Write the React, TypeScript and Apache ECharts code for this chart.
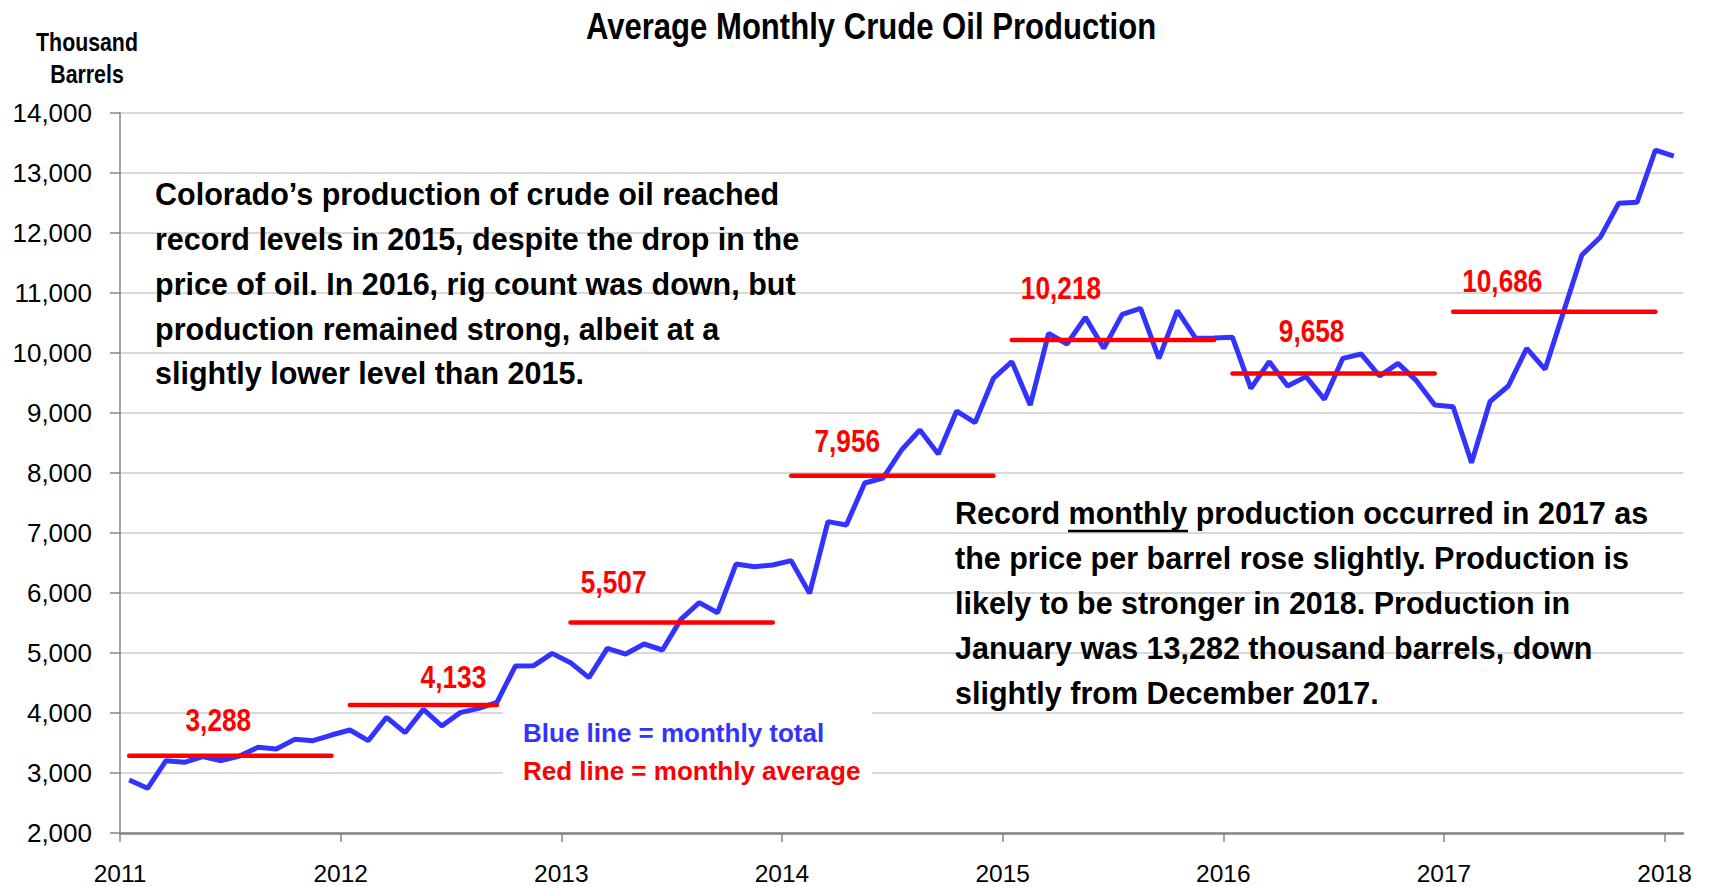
import React, { useEffect, useRef } from 'react';
import * as echarts from 'echarts';

// ---------- data ----------
const startYear = 2011;
const yearTicks = [2011, 2012, 2013, 2014, 2015, 2016, 2017, 2018];

const prod2011 = [2883, 2745, 3205, 3178, 3272, 3205, 3283, 3428, 3400, 3561, 3539, 3633];
const prod2012 = [3717, 3539, 3928, 3672, 4061, 3783, 4006, 4078, 4178, 4783, 4789, 4994];
const prod2013 = [4839, 4589, 5078, 4983, 5150, 5050, 5561, 5839, 5672, 6483, 6439, 6467];
const prod2014 = [6539, 5994, 7189, 7133, 7833, 7917, 8383, 8717, 8317, 9033, 8839, 9578];
const prod2015 = [9856, 9133, 10328, 10150, 10594, 10078, 10644, 10744, 9911, 10706, 10244, 10250];
const prod2016 = [10261, 9411, 9856, 9450, 9606, 9228, 9911, 9983, 9617, 9828, 9539, 9133];
const prod2017 = [9105, 8172, 9188, 9450, 10078, 9728, 10683, 11633, 11928, 12494, 12511, 13383];
const prod2018 = [13282];

const avgYears = [2011, 2012, 2013, 2014, 2015, 2016, 2017];
const avgValues = [3288, 4133, 5507, 7956, 10218, 9658, 10686];
const avgMonthsDrawn = [12, 9, 12, 12, 12, 12, 12];

const titleText = 'Average Monthly Crude Oil Production';
const unitText = 'Thousand\nBarrels';
const note1Lines = [
  'Colorado\u2019s production of crude oil reached',
  'record levels in 2015, despite the drop in the',
  'price of oil. In 2016, rig count was down, but',
  'production remained strong, albeit at a',
  'slightly lower level than 2015.',
];
const note2Lines = [
  'Record monthly production occurred in 2017 as',
  'the price per barrel rose slightly. Production is',
  'likely to be stronger in 2018. Production in',
  'January was 13,282 thousand barrels, down',
  'slightly from December 2017.',
];
const legendBlue = 'Blue line = monthly total';
const legendRed = 'Red line = monthly average';

// ---------- styles ----------
const FONT = '"Liberation Sans", Arial, sans-serif';
const NARROW_SCALE = 0.82;
const BLUE = '#3333ff';
const RED = '#ff0000';
const labelOffsets: [number, number][] = [
  [-12, -36], [30, -28], [-58, -41], [-45, -35], [-52, -52], [-22, -42], [-52, -31],
];

const fmt = (v: number) => Math.round(v).toLocaleString('en-US');

export default function App() {
  const ref = useRef<HTMLDivElement>(null);
  useEffect(() => {
    document.body.style.margin = '0';
    if (!ref.current) return;
    const chart = echarts.init(ref.current, undefined, { renderer: 'svg' });

    const monthly = [
      ...prod2011, ...prod2012, ...prod2013, ...prod2014,
      ...prod2015, ...prod2016, ...prod2017, ...prod2018,
    ];
    const blueData = monthly.map((v, i) => [startYear + (i + 0.5) / 12, v]);

    const redSeries = avgYears.map((y, k) => ({
      type: 'line',
      name: 'Average ' + y,
      data: [
        [y + 0.5 / 12, avgValues[k]],
        [y + (avgMonthsDrawn[k] - 0.5) / 12, avgValues[k]],
      ],
      symbol: 'none',
      lineStyle: { color: RED, width: 4.5, cap: 'round' },
      z: 4,
      silent: true,
    }));

    chart.setOption({
      animation: false,
      backgroundColor: '#ffffff',
      grid: { left: 120, right: 27, top: 113, bottom: 54, containLabel: false },
      xAxis: {
        type: 'value',
        min: 2011,
        max: 2018 + 1 / 12,
        interval: 1,
        axisLine: { show: true, lineStyle: { color: '#868686', width: 2.5 } },
        axisTick: { show: true, customValues: yearTicks, length: 9, lineStyle: { color: '#868686', width: 1.5 } },
        axisLabel: {
          customValues: yearTicks,
          formatter: (v: number) => String(Math.round(v)),
          fontFamily: FONT,
          fontSize: 24.5,
          color: '#000',
          margin: 28,
        },
        splitLine: { show: false },
      },
      yAxis: {
        type: 'value',
        min: 2000,
        max: 14000,
        interval: 1000,
        axisLine: { show: true, lineStyle: { color: '#868686', width: 1.5 } },
        axisTick: { show: true, length: 10, lineStyle: { color: '#868686', width: 1.5 } },
        axisLabel: {
          formatter: (v: number) => fmt(v),
          fontFamily: FONT,
          fontSize: 26,
          color: '#000',
          margin: 28,
        },
        splitLine: { show: true, lineStyle: { color: '#d9d9d9', width: 2 } },
      },
      series: [
        {
          type: 'line',
          name: 'Monthly total',
          data: blueData,
          symbol: 'none',
          lineStyle: { color: BLUE, width: 5 },
          z: 3,
          silent: true,
        },
        ...redSeries,
      ],
    });

    // red average labels, placed through the chart's own scales
    const avgLabels = avgYears.map((y, k) => {
      const p = chart.convertToPixel({ gridIndex: 0 }, [y + avgMonthsDrawn[k] / 24, avgValues[k]]) as number[];
      return {
        type: 'text',
        x: p[0] + labelOffsets[k][0],
        y: p[1] + labelOffsets[k][1],
        scaleX: NARROW_SCALE,
        z: 12,
        style: {
          text: fmt(avgValues[k]),
          fontFamily: FONT,
          fontWeight: 'bold',
          fontSize: 32,
          fill: RED,
          align: 'center',
          verticalAlign: 'middle',
        },
      };
    });

    const textLines = (lines: string[], x: number, top: number, lh: number) => ({
      type: 'text',
      x,
      y: top,
      z: 12,
      style: {
        text: lines.join('\n'),
        fontFamily: FONT,
        fontWeight: 'bold',
        fontSize: 30.5,
        lineHeight: lh,
        fill: '#000',
        align: 'left',
        verticalAlign: 'top',
      },
    });

    chart.setOption({
      graphic: [
        {
          type: 'text',
          x: 871,
          y: 26,
          scaleX: 0.84,
          z: 12,
          style: {
            text: titleText,
            fontFamily: FONT,
            fontWeight: 'bold',
            fontSize: 37,
            fill: '#000',
            align: 'center',
            verticalAlign: 'middle',
          },
        },
        {
          type: 'text',
          x: 87,
          y: 26,
          scaleX: NARROW_SCALE,
          z: 12,
          style: {
            text: unitText,
            fontFamily: FONT,
            fontWeight: 'bold',
            fontSize: 26,
            lineHeight: 32,
            fill: '#000',
            align: 'center',
            verticalAlign: 'top',
          },
        },
        textLines(note1Lines, 155, 172, 44.75),
        textLines(note2Lines, 955, 490.5, 45),
        {
          type: 'line',
          z: 12,
          shape: { x1: 1068, y1: 531, x2: 1188, y2: 531 },
          style: { stroke: '#000', lineWidth: 2.5 },
        },
        {
          type: 'rect',
          z: 11,
          shape: { x: 503, y: 708, width: 369, height: 84 },
          style: { fill: '#ffffff' },
        },
        {
          type: 'text',
          x: 523,
          y: 733,
          z: 12,
          style: {
            text: legendBlue,
            fontFamily: FONT,
            fontWeight: 'bold',
            fontSize: 26,
            fill: BLUE,
            align: 'left',
            verticalAlign: 'middle',
          },
        },
        {
          type: 'text',
          x: 523,
          y: 771,
          z: 12,
          style: {
            text: legendRed,
            fontFamily: FONT,
            fontWeight: 'bold',
            fontSize: 26,
            fill: RED,
            align: 'left',
            verticalAlign: 'middle',
          },
        },
        ...avgLabels,
      ],
    });
    return () => chart.dispose();
  }, []);
  return <div ref={ref} style={{ width: 1710, height: 887 }} />;
}
